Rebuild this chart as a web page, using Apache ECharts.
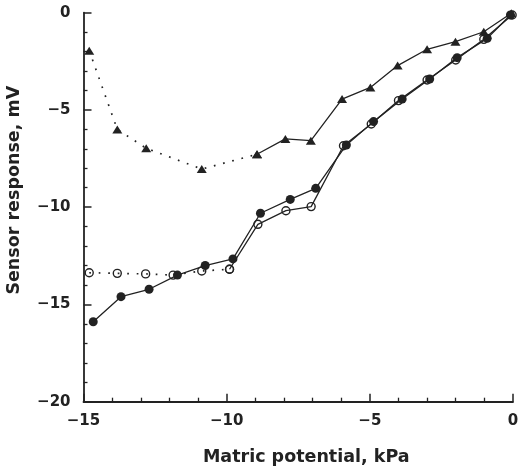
<!DOCTYPE html>
<html>
<head>
<meta charset="utf-8">
<script src="https://cdn.jsdelivr.net/npm/echarts@6/dist/echarts.min.js"></script>
<style>html,body{margin:0;padding:0;background:#fff;}#c{width:518px;height:470px;}</style>
</head>
<body>
<div id="c"></div>
<script>
// Triangles (dotted up to index 4, solid afterwards)
var triX = [-14.8, -13.82, -12.81, -10.87, -8.94, -7.95, -7.06, -5.97, -4.98, -4.03, -3.0, -2.01, -1.02, -0.06];
var triY = [-1.95, -6.0, -6.97, -8.04, -7.28, -6.49, -6.58, -4.44, -3.84, -2.72, -1.88, -1.49, -0.98, -0.03];
var triBreak = 4;
// Open circles (dotted up to index 5, solid afterwards)
var openX = [-14.8, -13.82, -12.83, -11.87, -10.87, -9.9, -8.91, -7.93, -7.05, -5.92, -4.95, -4.0, -3.0, -2.0, -1.02, -0.03];
var openY = [-13.37, -13.4, -13.43, -13.49, -13.28, -13.19, -10.88, -10.18, -9.97, -6.84, -5.72, -4.52, -3.46, -2.43, -1.37, -0.12];
var openBreak = 5;
// Filled circles (solid)
var filledX = [-14.66, -13.69, -12.71, -11.72, -10.75, -9.78, -8.82, -7.78, -6.89, -5.82, -4.87, -3.87, -2.91, -1.95, -0.9, -0.09];
var filledY = [-15.89, -14.6, -14.22, -13.49, -13.0, -12.66, -10.31, -9.6, -9.03, -6.8, -5.6, -4.44, -3.41, -2.31, -1.32, -0.12];

var xTicks = [-15, -10, -5, 0];
var yTicks = [-20, -15, -10, -5, 0];
var xName = 'Matric potential, kPa';
var yName = 'Sensor response, mV';

function pairs(xs, ys, a, b) {
  var out = [];
  for (var i = a; i <= b; i++) out.push([xs[i], ys[i]]);
  return out;
}
function fmt(v) { return v < 0 ? '\u2212' + Math.abs(v) : String(v); }

var ink = '#222';
var dotted = { color: ink, width: 1.7, type: [1.7, 7.8] };
var solid = { color: ink, width: 1.3 };
var font = 'DejaVu Sans';

function lineSeries(data, ls, sym, size, itemStyle, z) {
  return { type: 'line', data: data, lineStyle: ls, symbol: sym, symbolSize: size,
           itemStyle: itemStyle, showSymbol: true, z: z, animation: false, silent: true };
}

var triStyle = { color: ink };
var openStyle = { color: 'rgba(255,255,255,0)', borderColor: ink, borderWidth: 1.4 };
var fillStyle = { color: ink };

var option = {
  backgroundColor: '#fff',
  animation: false,
  grid: { left: 83.5, right: 5, top: 12.7, bottom: 68.3, containLabel: false, outerBoundsMode: 'none' },
  xAxis: {
    type: 'value', min: -15, max: 0, interval: 5,
    name: xName, nameLocation: 'middle', nameGap: 47,
    nameTextStyle: { fontFamily: font, fontWeight: 'bold', fontSize: 17.5, color: ink, padding: [0, 0, 0, 16] },
    axisLine: { show: true, onZero: false, lineStyle: { color: ink, width: 1.8 } },
    axisTick: { show: true, inside: true, length: 8, lineStyle: { color: ink, width: 1.5 } },
    minorTick: { show: true, splitNumber: 5, length: 4, lineStyle: { color: ink, width: 1.3 } },
    splitLine: { show: false },
    axisLabel: { margin: 12, fontFamily: font, fontWeight: 'bold', fontSize: 15, color: ink,
                 formatter: function (v) { return xTicks.indexOf(v) >= 0 ? fmt(v) : ''; } }
  },
  yAxis: {
    type: 'value', min: -20, max: 0, interval: 5,
    name: yName, nameLocation: 'middle', nameGap: 60, nameRotate: 90,
    nameTextStyle: { fontFamily: font, fontWeight: 'bold', fontSize: 17.5, color: ink, padding: [0, 0, 0, 34] },
    axisLine: { show: true, onZero: false, lineStyle: { color: ink, width: 1.8 } },
    axisTick: { show: true, inside: true, length: 8, lineStyle: { color: ink, width: 1.5 } },
    minorTick: { show: true, splitNumber: 5, length: 4, lineStyle: { color: ink, width: 1.3 } },
    splitLine: { show: false },
    axisLabel: { margin: 13, fontFamily: font, fontWeight: 'bold', fontSize: 15, color: ink,
                 formatter: function (v) { return yTicks.indexOf(v) >= 0 ? fmt(v) : ''; } }
  },
  series: [
    lineSeries(pairs(triX, triY, 0, triBreak), dotted, 'triangle', [10, 8], triStyle, 3),
    lineSeries(pairs(triX, triY, triBreak, triX.length - 1), solid, 'triangle', [10, 8], triStyle, 3),
    lineSeries(pairs(filledX, filledY, 0, filledX.length - 1), solid, 'circle', 9, fillStyle, 2),
    lineSeries(pairs(openX, openY, 0, openBreak), dotted, 'circle', 8, openStyle, 4),
    lineSeries(pairs(openX, openY, openBreak, openX.length - 1), solid, 'circle', 8, openStyle, 4)
  ]
};

var chart = echarts.init(document.getElementById('c'), null, { renderer: 'canvas' });
chart.setOption(option);
</script>
</body>
</html>
